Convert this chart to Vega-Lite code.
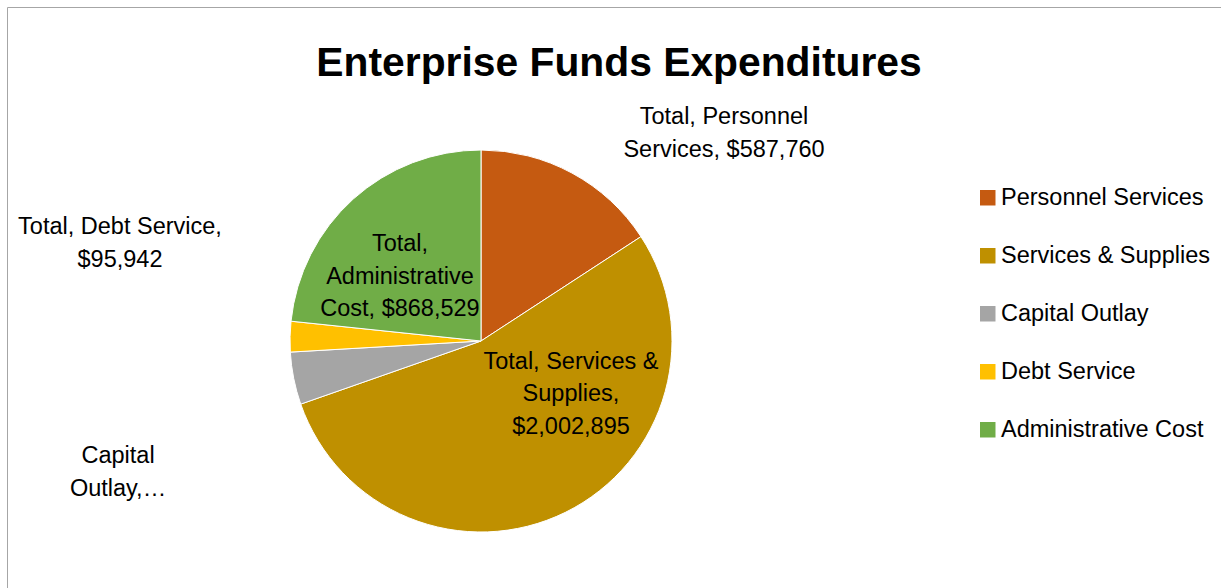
{
  "$schema": "https://vega.github.io/schema/vega-lite/v6.json",
  "width": 1214,
  "height": 581,
  "autosize": {"type": "none"},
  "padding": {"left": 7, "top": 7, "right": 0, "bottom": 0},
  "background": "white",
  "view": {"stroke": "#a6a6a6", "strokeWidth": 1, "strokeDash": [1214, 1795, 581, 0]},
  "title": {
    "text": "Enterprise Funds Expenditures",
    "fontSize": 40.8,
    "fontWeight": "bold",
    "color": "#000000",
    "anchor": "middle",
    "dx": 5,
    "dy": 107,
    "offset": -20
  },
  "data": {
    "values": [
      {"category": "Personnel Services", "value": 587760, "label": "Total, Personnel\nServices, $587,760"},
      {"category": "Services & Supplies", "value": 2002895, "label": "Total, Services &\nSupplies,\n$2,002,895"},
      {"category": "Capital Outlay", "value": 165000, "label": "Capital\nOutlay,…"},
      {"category": "Debt Service", "value": 95942, "label": "Total, Debt Service,\n$95,942"},
      {"category": "Administrative Cost", "value": 868529, "label": "Total,\nAdministrative\nCost, $868,529"}
    ]
  },
  "transform": [{"window": [{"op": "row_number", "as": "idx"}]}],
  "encoding": {
    "theta": {"field": "value", "type": "quantitative", "stack": true},
    "order": {"field": "idx", "type": "quantitative"}
  },
  "layer": [
    {
      "mark": {"type": "arc", "outerRadius": 191, "stroke": "white", "strokeWidth": 1, "xOffset": -133, "yOffset": 43.5},
      "encoding": {
        "color": {
          "field": "category",
          "type": "nominal",
          "scale": {
            "domain": ["Personnel Services", "Services & Supplies", "Capital Outlay", "Debt Service", "Administrative Cost"],
            "range": ["#C55A11", "#BF9000", "#A5A5A5", "#FFC000", "#70AD47"]
          },
          "legend": {
            "title": null,
            "orient": "none",
            "legendX": 969,
            "legendY": 179,
            "symbolType": "square",
            "symbolSize": 240,
            "symbolStrokeWidth": 0,
            "labelFontSize": 23.5,
            "labelColor": "#000000",
            "labelOffset": 1.5,
            "rowPadding": 33,
            "labelLimit": 400
          }
        }
      }
    },
    {
      "mark": {"type": "text", "radius": 240, "xOffset": -133, "yOffset": 43.5, "dx": 128.7, "dy": -12.75, "fontSize": 23.5, "lineBreak": "\n", "lineHeight": 32.5, "align": "center", "baseline": "middle", "color": "#000000"},
      "encoding": {"text": {"condition": {"test": "datum.category === 'Personnel Services'", "field": "label"}, "value": ""}}
    },
    {
      "mark": {"type": "text", "radius": 100, "xOffset": -133, "yOffset": 43.5, "dx": 45.8, "dy": -69, "fontSize": 23.5, "lineBreak": "\n", "lineHeight": 32.5, "align": "center", "baseline": "middle", "color": "#000000"},
      "encoding": {"text": {"condition": {"test": "datum.category === 'Services & Supplies'", "field": "label"}, "value": ""}}
    },
    {
      "mark": {"type": "text", "radius": 100, "xOffset": -133, "yOffset": 43.5, "dx": -14.1, "dy": -22.5, "fontSize": 23.5, "lineBreak": "\n", "lineHeight": 32.5, "align": "center", "baseline": "middle", "color": "#000000"},
      "encoding": {"text": {"condition": {"test": "datum.category === 'Administrative Cost'", "field": "label"}, "value": ""}}
    },
    {
      "mark": {"type": "text", "radius": 300, "xOffset": -133, "yOffset": 43.5, "dx": -61.1, "dy": -107, "fontSize": 23.5, "lineBreak": "\n", "lineHeight": 32.5, "align": "center", "baseline": "middle", "color": "#000000"},
      "encoding": {"text": {"condition": {"test": "datum.category === 'Debt Service'", "field": "label"}, "value": ""}}
    },
    {
      "mark": {"type": "text", "radius": 300, "xOffset": -133, "yOffset": 43.5, "dx": -68.8, "dy": 56.5, "fontSize": 23.5, "lineBreak": "\n", "lineHeight": 32.5, "align": "center", "baseline": "middle", "color": "#000000"},
      "encoding": {"text": {"condition": {"test": "datum.category === 'Capital Outlay'", "field": "label"}, "value": ""}}
    }
  ],
  "config": {
    "font": "Liberation Sans",
    "legend": {"padding": 0}
  }
}
